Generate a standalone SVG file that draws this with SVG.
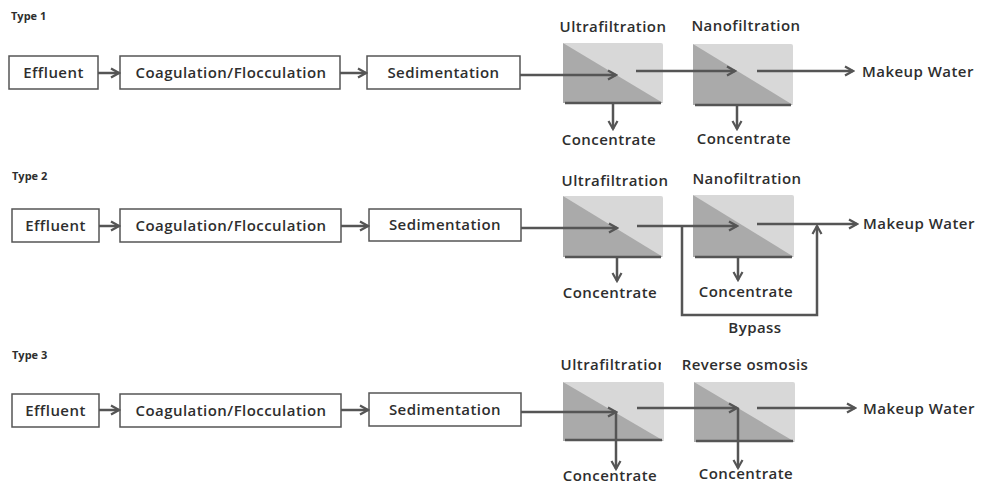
<svg xmlns="http://www.w3.org/2000/svg" width="984" height="485" viewBox="0 0 984 485">
<defs>
<style>
text{font-family:"Open Sans","Noto Sans","Liberation Sans",sans-serif;fill:#2e2e2e;font-weight:600}
.lbl{font-size:15px;letter-spacing:0.45px;text-anchor:middle}
.sm{font-size:11px;font-weight:700}
.box{fill:#fff;stroke:#555;stroke-width:1.5}
.mlight{fill:#d8d8d8}
.mdark{fill:#aaaaaa}
.mbot{stroke:#555;stroke-width:2.5}
.ar{fill:none;stroke:#555;stroke-width:2.5;marker-end:url(#ah)}
</style>
<marker id="ah" viewBox="0 0 12 12" refX="10" refY="6" markerWidth="12" markerHeight="12" markerUnits="userSpaceOnUse" orient="auto">
<path d="M2,1.5 L10,6 L2,10.5" fill="none" stroke="#555" stroke-width="2.2"/>
</marker>
<clipPath id="cut3"><rect x="540" y="350" width="121" height="30"/></clipPath>
</defs>

<rect width="984" height="485" fill="#fff"/>

<!-- Type labels -->
<text class="sm" x="11" y="20">Type 1</text>
<text class="sm" x="12" y="180">Type 2</text>
<text class="sm" x="12" y="359">Type 3</text>

<!-- ===== Type 1 ===== -->
<g id="t1-effluent"><rect class="box" x="9" y="56" width="89" height="33"/><text class="lbl" x="53.5" y="78">Effluent</text></g>
<g id="t1-coag"><rect class="box" x="120" y="56" width="220" height="33"/><text class="lbl" x="231" y="78">Coagulation/Flocculation</text></g>
<g id="t1-sed"><rect class="box" x="367" y="56" width="153" height="33"/><text class="lbl" x="443.5" y="78">Sedimentation</text></g>
<g id="t1-uf">
<rect class="mlight" x="563" y="43" width="100" height="60" rx="2"/>
<path class="mdark" d="M563,43 L663,103 L563,103 Z"/>
<line class="mbot" x1="565" y1="103" x2="661" y2="103"/>
<text class="lbl" x="613" y="32">Ultrafiltration</text>
</g>
<g id="t1-nf">
<rect class="mlight" x="693" y="44" width="100" height="61" rx="2"/>
<path class="mdark" d="M693,44 L793,105 L693,105 Z"/>
<line class="mbot" x1="695" y1="105" x2="791" y2="105"/>
<text class="lbl" x="746" y="31">Nanofiltration</text>
</g>
<g id="t1-conc1"><text class="lbl" x="609" y="145">Concentrate</text></g>
<g id="t1-conc2"><text class="lbl" x="744" y="144">Concentrate</text></g>
<g id="t1-makeup"><text class="lbl" x="862" y="77" style="text-anchor:start">Makeup Water</text></g>

<!-- ===== Type 2 ===== -->
<g id="t2-effluent"><rect class="box" x="12" y="209" width="87" height="33"/><text class="lbl" x="55.5" y="231">Effluent</text></g>
<g id="t2-coag"><rect class="box" x="120" y="209" width="221" height="33"/><text class="lbl" x="231" y="231">Coagulation/Flocculation</text></g>
<g id="t2-sed"><rect class="box" x="369" y="209" width="152" height="32"/><text class="lbl" x="445" y="230">Sedimentation</text></g>
<g id="t2-uf">
<rect class="mlight" x="563" y="196" width="100" height="61" rx="2"/>
<path class="mdark" d="M563,196 L663,257 L563,257 Z"/>
<line class="mbot" x1="565" y1="257" x2="661" y2="257"/>
<text class="lbl" x="615" y="186">Ultrafiltration</text>
</g>
<g id="t2-nf">
<rect class="mlight" x="693" y="195" width="101" height="62" rx="2"/>
<path class="mdark" d="M693,195 L794,257 L693,257 Z"/>
<line class="mbot" x1="695" y1="257" x2="792" y2="257"/>
<text class="lbl" x="747" y="184">Nanofiltration</text>
</g>
<g id="t2-conc1"><text class="lbl" x="610" y="298">Concentrate</text></g>
<g id="t2-conc2"><text class="lbl" x="746" y="297">Concentrate</text></g>
<g id="t2-bypass"><text class="lbl" x="755" y="333">Bypass</text></g>
<g id="t2-makeup"><text class="lbl" x="863" y="229" style="text-anchor:start">Makeup Water</text></g>

<!-- ===== Type 3 ===== -->
<g id="t3-effluent"><rect class="box" x="12" y="394" width="87" height="33"/><text class="lbl" x="55.5" y="416">Effluent</text></g>
<g id="t3-coag"><rect class="box" x="120" y="394" width="221" height="33"/><text class="lbl" x="231" y="416">Coagulation/Flocculation</text></g>
<g id="t3-sed"><rect class="box" x="369" y="393" width="152" height="33"/><text class="lbl" x="445" y="415">Sedimentation</text></g>
<g id="t3-uf">
<rect class="mlight" x="563" y="382" width="101" height="59" rx="2"/>
<path class="mdark" d="M563,382 L664,441 L563,441 Z"/>
<line class="mbot" x1="565" y1="440" x2="662" y2="440"/>
<text class="lbl" x="614" y="370" clip-path="url(#cut3)">Ultrafiltration</text>
</g>
<g id="t3-ro">
<rect class="mlight" x="694" y="382" width="101" height="60" rx="2"/>
<path class="mdark" d="M694,382 L795,442 L694,442 Z"/>
<line class="mbot" x1="696" y1="441" x2="793" y2="441"/>
<text class="lbl" x="745" y="370">Reverse osmosis</text>
</g>
<g id="t3-conc1"><text class="lbl" x="610" y="481">Concentrate</text></g>
<g id="t3-conc2"><text class="lbl" x="746" y="479">Concentrate</text></g>
<g id="t3-makeup"><text class="lbl" x="863" y="414" style="text-anchor:start">Makeup Water</text></g>

<!-- connectors -->
<g id="connectors">
<!-- Type 1 -->
<line class="ar" x1="98" y1="73" x2="119" y2="73"/>
<line class="ar" x1="340" y1="73" x2="366" y2="73"/>
<line class="ar" x1="520" y1="75" x2="616" y2="75"/>
<line class="ar" x1="636" y1="71" x2="735" y2="71"/>
<line class="ar" x1="757" y1="71" x2="853" y2="71"/>
<line class="ar" x1="613" y1="103" x2="613" y2="129"/>
<line class="ar" x1="737" y1="105" x2="737" y2="129"/>
<!-- Type 2 -->
<line class="ar" x1="99" y1="226" x2="119" y2="226"/>
<line class="ar" x1="341" y1="226" x2="368" y2="226"/>
<line class="ar" x1="521" y1="228" x2="617" y2="228"/>
<line class="ar" x1="637" y1="226" x2="737" y2="226"/>
<line class="ar" x1="757" y1="224" x2="857" y2="224"/>
<line class="ar" x1="617" y1="257" x2="617" y2="281"/>
<line class="ar" x1="738" y1="257" x2="738" y2="280"/>
<polyline class="ar" points="682,226 682,315 817,315 817,226"/>
<!-- Type 3 -->
<line class="ar" x1="99" y1="410" x2="119" y2="410"/>
<line class="ar" x1="341" y1="410" x2="368" y2="410"/>
<line class="ar" x1="521" y1="412" x2="616" y2="412"/>
<line class="ar" x1="637" y1="408" x2="737" y2="408"/>
<line class="ar" x1="757" y1="408" x2="855" y2="408"/>
<line class="ar" x1="616" y1="412" x2="616" y2="469"/>
<line class="ar" x1="738" y1="408" x2="738" y2="468"/>
</g>
</svg>
